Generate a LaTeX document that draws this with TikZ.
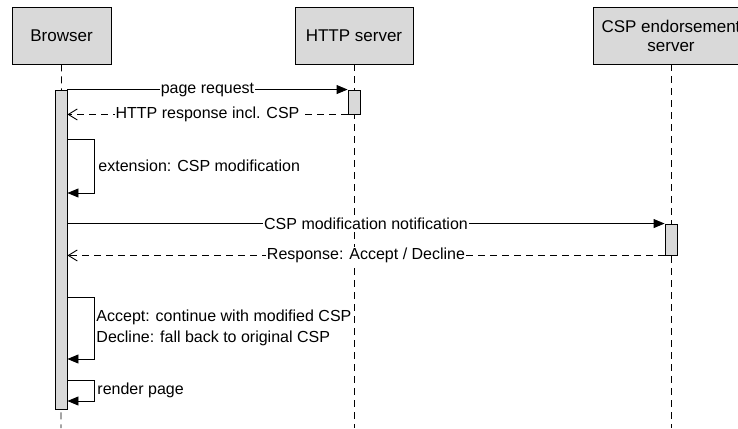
\documentclass[tikz,border=0pt]{standalone}
\usepackage{fontspec}
\setmainfont{Liberation Sans}
\usetikzlibrary{arrows.meta}
\definecolor{boxgray}{RGB}{217,217,217}
\begin{document}
\begin{tikzpicture}[x=1pt,y=-1pt,
  actor/.style={draw=black,fill=boxgray,line width=0.9pt,minimum height=57pt,inner sep=0pt,font=\fontsize{17}{19}\selectfont,align=center},
  activ/.style={draw=black,fill=boxgray,line width=0.9pt,minimum width=12pt,inner sep=0pt},
  life/.style={line width=0.9pt,dash pattern=on 7pt off 5pt},
  msg/.style={line width=0.9pt,-{Triangle[length=11pt,width=9pt]}},
  reply/.style={line width=0.9pt,dash pattern=on 7pt off 5pt,-{Straight Barb[length=9pt,width=11pt]}},
  lbl/.style={fill=white,inner sep=1pt,font=\fontsize{16}{19}\selectfont},
  note/.style={anchor=west,inner sep=0pt,align=left,font=\fontsize{16}{21}\selectfont}]
\useasboundingbox (0,0) rectangle (738,428);
\clip (0,0) rectangle (738,428);
% actors
\node[actor,minimum width=99pt] (browser) at (61.5,35.5) {Browser};
\node[actor,minimum width=118pt] (http) at (354,35.5) {HTTP server};
\node[actor,minimum width=156pt] (csp) at (671,35.5) {CSP endorsement\\server};
% lifelines
\coordinate (bend) at (61,428);
\coordinate (hend) at (354,428);
\coordinate (cend) at (671,428);
\draw[life] (browser.south) -- (bend);
\draw[life] (http.south) -- (hend);
\draw[life] (csp.south) -- (cend);
% activations
\node[activ,minimum height=319pt] (bact) at (61,249.5) {};
\node[activ,minimum height=24pt] (hact) at (354,102) {};
\node[activ,minimum height=31pt] (cact) at (671,239.5) {};
% messages
\draw[msg] (bact.north east) -- node[lbl]{page request} (hact.north west);
\draw[reply] (hact.south west) -- node[lbl]{HTTP response incl. CSP} (bact.east |- hact.south);
% self call 1
\coordinate (s1b) at (94,139);
\coordinate (s1c) at (94,193);
\draw[msg] (bact.east |- s1b) -- (s1b) -- node[note,xshift=4pt]{extension: CSP modification} (s1c) -- (bact.east |- s1c);
% endorsement
\draw[msg] (bact.east |- cact.north) -- node[lbl]{CSP modification notification} (cact.north west);
\draw[reply] (cact.south west) -- node[lbl]{Response: Accept / Decline} (bact.east |- cact.south);
% self call 2
\coordinate (s2b) at (94,297);
\coordinate (s2c) at (94,359);
\draw[msg] (bact.east |- s2b) -- (s2b) -- node[note,xshift=2pt]{Accept: continue with modified CSP\\Decline: fall back to original CSP} (s2c) -- (bact.east |- s2c);
% self call 3
\coordinate (s3b) at (94,380);
\coordinate (s3c) at (94,401);
\draw[msg] (bact.east |- s3b) -- (s3b) -- node[note,xshift=3pt]{render page} (s3c) -- (bact.east |- s3c);
\end{tikzpicture}
\end{document}
